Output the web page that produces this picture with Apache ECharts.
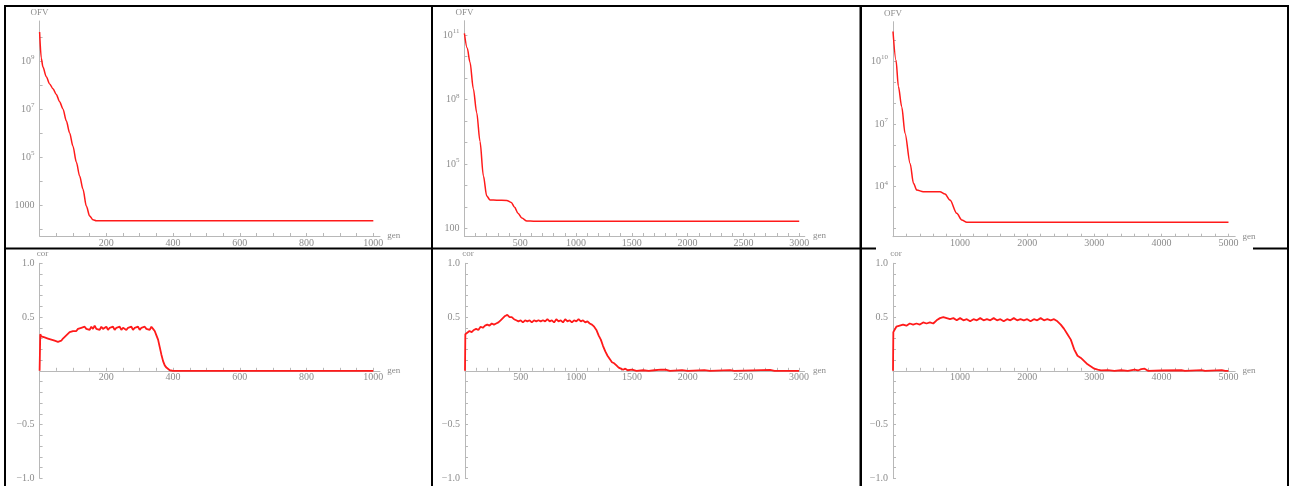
<!DOCTYPE html>
<html>
<head>
<meta charset="utf-8">
<script src="https://cdn.jsdelivr.net/npm/echarts@6/dist/echarts.min.js"></script>
<style>
html, body { margin: 0; padding: 0; background: #fff; }
#main { width: 1291px; height: 486px; }
</style>
</head>
<body>
<div id="main"></div>
<script>
// ---- data: [gen, value] ----
// top row, objective function value (log scale)
var ofvRun1 = [[0, 1.6e10], [5, 1.3e9], [10, 5.6e8], [20, 2.2e8], [30, 1.1e8], [40, 7e7], [50, 4e7], [60, 2e7],
    [70, 1e7], [80, 3.2e6], [90, 1e6], [100, 2.8e5], [110, 6.2e4], [120, 1.6e4], [130, 4.5e3], [140, 9e2],
    [150, 3.5e2], [160, 2.4e2], [170, 2.2e2], [1000, 2.2e2]];
var ofvRun2 = [[0, 1.2e11], [25, 2.5e10], [50, 5.6e9], [80, 3.2e8], [110, 2.5e7], [140, 1.1e6], [170, 2.8e4],
    [200, 3.2e3], [230, 2.1e3], [290, 2.05e3], [380, 2e3], [420, 1.6e3], [450, 9.5e2], [480, 5e2], [515, 3e2],
    [560, 2.2e2], [620, 2.15e2], [3000, 2.15e2]];
var ofvRun3 = [[0, 2.6e11], [45, 1.1e10], [80, 6.3e8], [130, 6.6e7], [180, 3.5e6], [255, 1.3e5], [305, 1.45e4],
    [355, 6.9e3], [450, 5.8e3], [700, 5.8e3], [775, 4.5e3], [850, 2.3e3], [950, 5.4e2], [1025, 2.6e2],
    [1100, 2e2], [5000, 2e2]];

// bottom row, correlation
var corRun1 = [[0, 0], [2, 0.34], [5, 0.32], [10, 0.33], [15, 0.31], [20, 0.32], [25, 0.30], [30, 0.31], [35, 0.29],
    [40, 0.30], [45, 0.28], [50, 0.29], [55, 0.27], [60, 0.285], [65, 0.28], [70, 0.30], [75, 0.31], [80, 0.33],
    [85, 0.34], [90, 0.36], [95, 0.35], [100, 0.37], [105, 0.38], [110, 0.37], [115, 0.39], [120, 0.38], [125, 0.40],
    [130, 0.39], [135, 0.41], [140, 0.39], [145, 0.40], [150, 0.38], [155, 0.41], [160, 0.39], [165, 0.42], [170, 0.39],
    [175, 0.40], [180, 0.38], [185, 0.41], [190, 0.39], [195, 0.40], [200, 0.41], [205, 0.38], [210, 0.40], [215, 0.39],
    [220, 0.41], [225, 0.38], [230, 0.40], [235, 0.39], [240, 0.41], [245, 0.38], [250, 0.40], [255, 0.39], [260, 0.38],
    [265, 0.40], [270, 0.39], [275, 0.41], [280, 0.38], [285, 0.40], [290, 0.39], [295, 0.41], [300, 0.38], [305, 0.40],
    [310, 0.39], [315, 0.41], [320, 0.39], [325, 0.40], [330, 0.38], [335, 0.41], [340, 0.39], [345, 0.37], [350, 0.33],
    [355, 0.29], [360, 0.22], [365, 0.15], [370, 0.09], [375, 0.05], [380, 0.03], [385, 0.015], [390, 0.005], [400, 0],
    [1000, 0]];
var corRun2 = [[0, 0], [3, 0.34], [20, 0.35], [40, 0.37], [60, 0.36], [80, 0.38], [100, 0.39], [120, 0.38], [140, 0.41],
    [160, 0.40], [180, 0.42], [200, 0.43], [220, 0.42], [240, 0.44], [260, 0.43], [280, 0.44], [300, 0.45], [320, 0.47],
    [340, 0.49], [360, 0.51], [380, 0.52], [400, 0.50], [420, 0.50], [440, 0.48], [460, 0.47], [480, 0.46], [500, 0.47],
    [520, 0.45], [540, 0.47], [560, 0.46], [580, 0.47], [600, 0.45], [620, 0.47], [640, 0.46], [660, 0.47], [680, 0.46],
    [700, 0.47], [720, 0.46], [740, 0.48], [760, 0.46], [780, 0.47], [800, 0.45], [820, 0.48], [840, 0.46], [860, 0.47],
    [880, 0.45], [900, 0.48], [920, 0.46], [940, 0.47], [960, 0.45], [980, 0.47], [1000, 0.46], [1020, 0.48], [1040, 0.46],
    [1060, 0.47], [1080, 0.45], [1100, 0.46], [1120, 0.44], [1140, 0.43], [1160, 0.41], [1180, 0.38], [1200, 0.33],
    [1220, 0.29], [1240, 0.23], [1260, 0.18], [1280, 0.14], [1300, 0.11], [1320, 0.08], [1340, 0.07], [1360, 0.05],
    [1380, 0.03], [1400, 0.02], [1420, 0.01], [1440, 0.02], [1460, 0.005], [1500, 0.01], [1540, 0], [1600, 0.005],
    [1650, 0], [1700, 0.005], [1760, 0.01], [1800, 0.01], [1840, 0], [1950, 0.006], [2000, 0], [2150, 0.006], [2200, 0],
    [2380, 0.006], [2420, 0], [2740, 0.008], [2780, 0], [3000, 0]];
var corRun3 = [[0, 0], [5, 0.36], [50, 0.41], [100, 0.42], [150, 0.43], [200, 0.42], [250, 0.44], [300, 0.43],
    [350, 0.44], [400, 0.43], [450, 0.45], [500, 0.44], [550, 0.45], [600, 0.44], [650, 0.47], [700, 0.49], [750, 0.50],
    [800, 0.49], [850, 0.48], [900, 0.49], [950, 0.47], [1000, 0.49], [1050, 0.47], [1100, 0.48], [1150, 0.46],
    [1200, 0.48], [1250, 0.47], [1300, 0.49], [1350, 0.47], [1400, 0.48], [1450, 0.47], [1500, 0.49], [1550, 0.47],
    [1600, 0.48], [1650, 0.46], [1700, 0.48], [1750, 0.47], [1800, 0.49], [1850, 0.47], [1900, 0.48], [1950, 0.47],
    [2000, 0.48], [2050, 0.46], [2100, 0.48], [2150, 0.47], [2200, 0.49], [2250, 0.47], [2300, 0.48], [2350, 0.47],
    [2400, 0.48], [2450, 0.46], [2500, 0.43], [2550, 0.39], [2600, 0.34], [2650, 0.29], [2700, 0.20], [2750, 0.14],
    [2800, 0.12], [2850, 0.09], [2900, 0.06], [2950, 0.04], [3000, 0.02], [3050, 0.01], [3100, 0.004], [3200, 0.006],
    [3300, 0], [3400, 0.005], [3500, 0], [3600, 0.01], [3650, 0.003], [3700, 0.015], [3750, 0.02], [3800, 0],
    [4000, 0.003], [4300, 0.005], [4350, 0], [4600, 0.006], [4650, 0], [4900, 0.006], [4950, 0], [5000, 0]];

// tick labels
var genLabels = [[200, 400, 600, 800, 1000], [500, 1000, 1500, 2000, 2500, 3000], [1000, 2000, 3000, 4000, 5000]];
var genStep = [50, 100, 200];
var genMax = [1020, 3050, 5100];
var ofvLabels = [[1e3, 1e5, 1e7, 1e9], [1e2, 1e5, 1e8, 1e11], [1e4, 1e7, 1e10]];
var ofvTicks = [[1e2, 1e3, 1e4, 1e5, 1e6, 1e7, 1e8, 1e9, 1e10],
    [1e2, 1e3, 1e4, 1e5, 1e6, 1e7, 1e8, 1e9, 1e10, 1e11],
    [1e2, 1e3, 1e4, 1e5, 1e6, 1e7, 1e8, 1e9, 1e10, 1e11]];
var ofvRange = [[51, 4.6e10], [44, 4.7e11], [41, 7.6e11]];
var corLabels = [-1, -0.5, 0.5, 1];

var chart = echarts.init(document.getElementById('main'));

var serif = 'Liberation Serif';
var lineGray = '#b8b8b8';
var textGray = '#8c8c8c';
var red = '#ff1a1a';

var gridBoxes = [
    { left: 39.6, top: 21, width: 340.4, height: 215 },
    { left: 464.4, top: 20.7, width: 340.4, height: 215.3 },
    { left: 893, top: 21.7, width: 342.2, height: 215 },
    { left: 39.6, top: 263.3, width: 340.4, height: 215 },
    { left: 465, top: 263.3, width: 339.6, height: 215 },
    { left: 893, top: 263.3, width: 342.2, height: 215 }
];

function steps(step, end) {
    var out = [];
    for (var v = step; v <= end; v += step) out.push(v);
    return out;
}

function ofvFormat(v) {
    var e = Math.round(Math.log(v) / Math.LN10);
    if (e <= 3) return String(Math.round(v));
    return '{b|10}{s|' + e + '}';
}

function corFormat(v) {
    return (v < 0 ? '\u2212' : '') + Math.abs(v).toFixed(1);
}

var corTicks = [];
for (var k = -10; k <= 10; k++) if (k !== 0) corTicks.push(k / 10);

var grids = [], xAxes = [], yAxes = [], series = [];

for (var i = 0; i < 6; i++) {
    var col = i % 3;
    var isTop = i < 3;
    grids.push(Object.assign({ outerBoundsMode: 'none', containLabel: false }, gridBoxes[i]));

    // bottom row: the gen axis sits at cor = 0, i.e. half way up the grid
    xAxes.push({
        type: 'value', gridIndex: i, min: 0, max: genMax[col],
        position: 'bottom', offset: isTop ? 0 : -gridBoxes[i].height / 2,
        name: 'gen', nameLocation: 'end', nameGap: 4,
        nameTextStyle: { fontFamily: serif, fontSize: 9, color: textGray, padding: [0, 0, 3, 0] },
        splitLine: { show: false },
        axisLine: { onZero: false, lineStyle: { color: lineGray, width: 1 } },
        axisTick: { show: true, inside: true, length: 3, customValues: steps(genStep[col], genMax[col] - 1), lineStyle: { color: lineGray } },
        axisLabel: {
            customValues: genLabels[col], margin: 2, formatter: function (v) { return String(v); },
            fontFamily: serif, fontSize: 10, color: textGray
        }
    });

    if (isTop) {
        yAxes.push({
            type: 'log', logBase: 10, gridIndex: i, min: ofvRange[col][0], max: ofvRange[col][1],
            name: 'OFV', nameLocation: 'end', nameGap: 4,
            nameTextStyle: { fontFamily: serif, fontSize: 9, color: textGray },
            splitLine: { show: false },
            axisLine: { onZero: false, lineStyle: { color: lineGray, width: 1 } },
            axisTick: { show: true, inside: true, length: 3, customValues: ofvTicks[col], lineStyle: { color: lineGray } },
            axisLabel: {
                customValues: ofvLabels[col], margin: 5, formatter: ofvFormat,
                fontFamily: serif, fontSize: 10, color: textGray,
                rich: {
                    b: { fontFamily: serif, fontSize: 10, color: textGray, lineHeight: 14 },
                    s: { fontFamily: serif, fontSize: 7, color: textGray, verticalAlign: 'top', lineHeight: 14 }
                }
            }
        });
        series.push({
            type: 'line', xAxisIndex: i, yAxisIndex: i, data: [ofvRun1, ofvRun2, ofvRun3][col],
            showSymbol: false, smooth: 0.3, smoothMonotone: 'x',
            lineStyle: { color: red, width: 1.5 }, animation: false
        });
    } else {
        yAxes.push({
            type: 'value', gridIndex: i, min: -1, max: 1,
            name: 'cor', nameLocation: 'end', nameGap: 4,
            nameTextStyle: { fontFamily: serif, fontSize: 9, color: textGray, padding: [0, 0, 0, 6] },
            splitLine: { show: false },
            axisLine: { onZero: false, lineStyle: { color: lineGray, width: 1 } },
            axisTick: { show: true, inside: true, length: 3, customValues: corTicks, lineStyle: { color: lineGray } },
            axisLabel: { customValues: corLabels, margin: 5, formatter: corFormat, fontFamily: serif, fontSize: 10, color: textGray }
        });
        series.push({
            type: 'line', xAxisIndex: i, yAxisIndex: i, data: [corRun1, corRun2, corRun3][col],
            showSymbol: false,
            lineStyle: { color: red, width: 1.8 }, animation: false
        });
    }
}

// table borders of the original figure
function bar(x, y, w, h) {
    return { type: 'rect', shape: { x: x, y: y, width: w, height: h }, style: { fill: '#000' }, silent: true };
}

option = {
    backgroundColor: '#fff',
    animation: false,
    grid: grids,
    xAxis: xAxes,
    yAxis: yAxes,
    series: series,
    graphic: [
        bar(4, 5, 1285, 2),
        bar(4, 5, 2, 481),
        bar(431, 5, 2, 481),
        bar(859.5, 5, 2.5, 481),
        bar(1287, 5, 2, 481),
        bar(4, 247.5, 872, 2),
        bar(1253, 247.5, 36, 2)
    ]
};

chart.setOption(option);
</script>
</body>
</html>
